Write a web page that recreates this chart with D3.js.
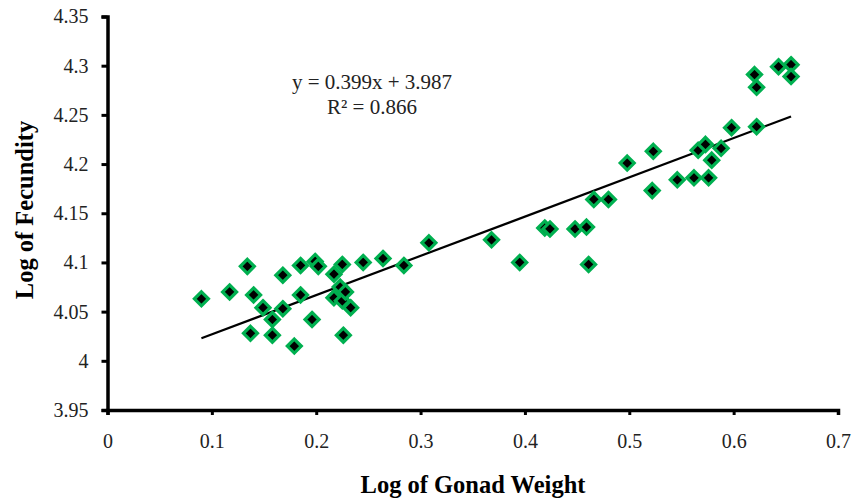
<!DOCTYPE html>
<html lang="en">
<head>
    <meta charset="UTF-8">
    <title>Log of Fecundity vs Log of Gonad Weight</title>
    <script src="https://d3js.org/d3.v7.min.js"></script>
    <style>
        body { margin: 0; background: #fff; }
        text { font-family: "Liberation Serif", "Times New Roman", serif; fill: #222; }
        .axis-title { font-weight: bold; font-size: 24.5px; fill: #000; }
        .eq { font-size: 21px; }
    </style>
</head>
<body>
    <svg width="852" height="499"></svg>
    <script>
        // log of gonad weight (x) and log of fecundity (y)
        const gonadWeight = [
            0.090, 0.117, 0.134, 0.140, 0.149, 0.137, 0.158, 0.158, 0.168, 0.168,
            0.179, 0.185, 0.185, 0.196, 0.199, 0.202, 0.217, 0.225, 0.245, 0.217,
            0.225, 0.223, 0.228, 0.233, 0.226, 0.264, 0.284, 0.308, 0.368, 0.395,
            0.419, 0.424, 0.448, 0.459, 0.461, 0.466, 0.480, 0.498, 0.522, 0.523,
            0.546, 0.562, 0.576, 0.566, 0.573, 0.579, 0.588, 0.598, 0.622, 0.620,
            0.622, 0.643, 0.655, 0.655
        ];
        const fecundity = [
            4.063, 4.070, 4.096, 4.067, 4.054, 4.028, 4.042, 4.026, 4.053, 4.087,
            4.015, 4.097, 4.067, 4.042, 4.101, 4.096, 4.088, 4.098, 4.100, 4.064,
            4.061, 4.075, 4.070, 4.054, 4.026, 4.104, 4.097, 4.120, 4.123, 4.100,
            4.135, 4.134, 4.134, 4.136, 4.098, 4.164, 4.164, 4.201, 4.173, 4.213,
            4.184, 4.186, 4.186, 4.214, 4.220, 4.204, 4.216, 4.237, 4.238, 4.291,
            4.278, 4.299, 4.301, 4.289
        ];
        const xTicks = [0, 0.1, 0.2, 0.3, 0.4, 0.5, 0.6, 0.7];
        const yTicks = [3.95, 4, 4.05, 4.1, 4.15, 4.2, 4.25, 4.3, 4.35];
        const slope = 0.399, intercept = 3.987;
        const eqLines = ["y = 0.399x + 3.987", "R\u00B2 = 0.866"];

        const svg = d3.select("svg");
        const plotLeft = 107.5, plotRight = 838, plotTop = 16.5, plotBottom = 410;

        const x = d3.scaleLinear().domain([0, 0.7]).range([plotLeft, plotRight]);
        const y = d3.scaleLinear().domain([3.95, 4.35]).range([plotBottom, plotTop]);

        // x axis
        const xAxis = svg.append("g")
            .attr("transform", `translate(0,${plotBottom})`)
            .call(d3.axisBottom(x).tickValues(xTicks).tickFormat(d3.format("")).tickSize(5).tickPadding(19));
        xAxis.select(".domain").attr("stroke", "#000").attr("stroke-width", 3.5);
        xAxis.selectAll(".tick line").attr("stroke", "#000").attr("stroke-width", 3);

        // y axis
        const yAxis = svg.append("g")
            .attr("transform", `translate(${plotLeft},0)`)
            .call(d3.axisLeft(y).tickValues(yTicks).tickFormat(d3.format("")).tickSize(6).tickPadding(13));
        yAxis.select(".domain").attr("stroke", "#000").attr("stroke-width", 3.5);
        yAxis.selectAll(".tick line").attr("stroke", "#000").attr("stroke-width", 3);

        svg.selectAll(".tick text")
            .style("font-family", "'Liberation Serif', 'Times New Roman', serif")
            .style("font-size", "20px")
            .style("fill", "#222");

        // trend line across the data range
        const xMin = d3.min(gonadWeight), xMax = d3.max(gonadWeight);
        svg.append("line")
            .attr("x1", x(xMin)).attr("y1", y(slope * xMin + intercept))
            .attr("x2", x(xMax)).attr("y2", y(slope * xMax + intercept))
            .attr("stroke", "#000").attr("stroke-width", 2.2);

        // points: black diamonds with green outline
        const pts = gonadWeight.map((d, i) => ({ x: d, y: fecundity[i] }));
        svg.append("g")
            .selectAll("path")
            .data(pts)
            .enter().append("path")
            .attr("d", "M 0,-7 L 7,0 L 0,7 L -7,0 Z")
            .attr("transform", d => `translate(${x(d.x)},${y(d.y)})`)
            .attr("fill", "#000")
            .attr("stroke", "#00b050")
            .attr("stroke-width", 3.2)
            .attr("stroke-linejoin", "miter");

        // equation
        svg.append("g").selectAll("text")
            .data(eqLines)
            .enter().append("text")
            .attr("class", "eq")
            .attr("x", 372)
            .attr("y", (d, i) => 89 + i * 25)
            .attr("text-anchor", "middle")
            .text(d => d);

        // axis titles
        svg.append("text")
            .attr("class", "axis-title")
            .attr("x", 473).attr("y", 493)
            .attr("text-anchor", "middle")
            .text("Log of Gonad Weight");

        svg.append("text")
            .attr("class", "axis-title")
            .attr("transform", "translate(33,210) rotate(-90)")
            .attr("text-anchor", "middle")
            .text("Log of Fecundity");
    </script>
</body>
</html>
